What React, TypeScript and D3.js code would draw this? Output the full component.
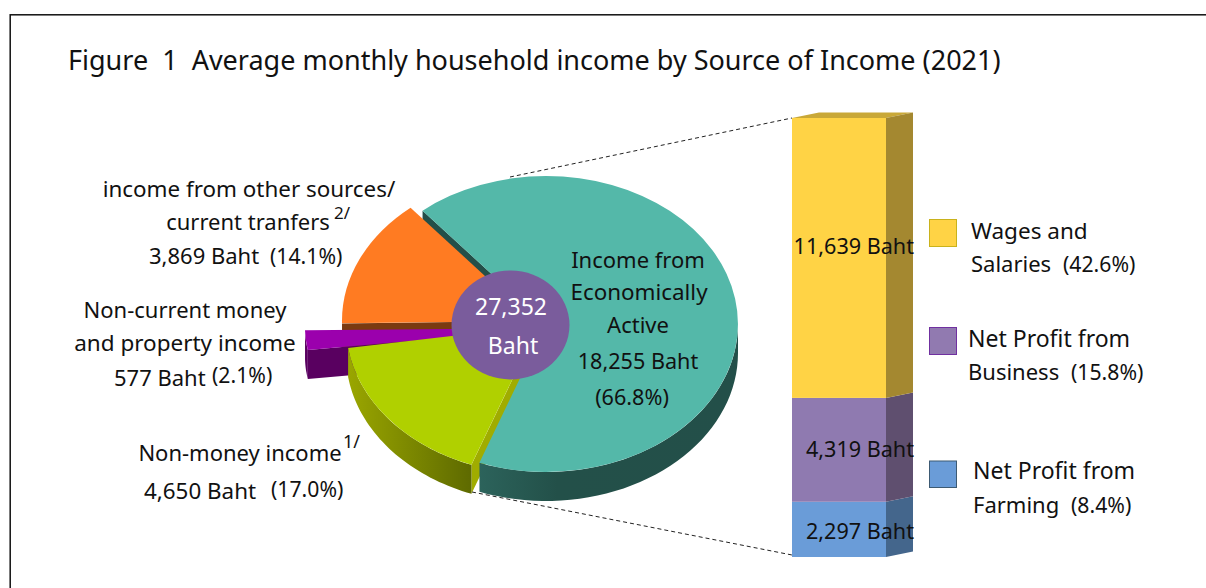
import React from 'react';
import * as d3 from 'd3';

// slices of the pie, clockwise from the teal one
const pieNames = ['Economically Active', 'Non-money', 'Non-current', 'Other sources'];
const pieValues = [18255, 4650, 577, 3869];
const pieColors = ['#54b8a9', '#b0d000', '#9b00ad', '#ff7b22'];
const wallColors = ['#234f49', '#7d8a00', '#590060', '#7a3a10'];

// stacked bar, bottom to top
const barNames = ['Farming', 'Business', 'Wages'];
const barValues = [2297, 4319, 11639];
const barLabels = ['2,297 Baht', '4,319 Baht', '11,639 Baht'];
const barColors = ['#6a9cd8', '#8f7ab0', '#ffd345'];
const barSideColors = ['#44668c', '#5f4f6f', '#a48830'];

const FONT = '"Noto Sans", sans-serif';

const W = 1206;
const H = 588;
const ry = 148;
const depth = 29;
// the slices are pulled apart, so each has its own centre; the thin purple one is stretched out
const sliceCenters: [number, number][] = [[546, 324], [538, 326], [560, 328], [534, 321]];
const sliceRx = [192, 192, 255, 192];

const startAngle = (-40 * Math.PI) / 180;

const pie = d3.pie<number>().sort(null).startAngle(startAngle).endAngle(startAngle + 2 * Math.PI);
const arcs = pie(pieValues);

// unit arc, squashed with a transform to get the tilted look
const unitArc = d3.arc<any>().innerRadius(0).outerRadius(1);

const onEllipse = (a: number, i: number, dy = 0): [number, number] => [
    sliceCenters[i][0] + sliceRx[i] * Math.sin(a),
    sliceCenters[i][1] - ry * Math.cos(a) + dy,
];

// only the part of the rim that looks to the viewer (pi/2 .. 3pi/2)
const rimPath = (a0: number, a1: number, i: number) => {
    const from = Math.max(a0, Math.PI / 2);
    const to = Math.min(a1, (3 * Math.PI) / 2);
    if (to <= from) return '';
    const steps = d3.range(0, 41).map((k) => from + ((to - from) * k) / 40);
    const top = steps.map((a) => onEllipse(a, i));
    const bottom = steps.slice().reverse().map((a) => onEllipse(a, i, depth));
    return d3.line()([...top, ...bottom]) + 'Z';
};

const radialWall = (a: number, i: number) => {
    const c = sliceCenters[i];
    return d3.line()([c, onEllipse(a, i), onEllipse(a, i, depth), [c[0], c[1] + depth]]) + 'Z';
};

const barX = 792;
const barW = 94;
const sideX = 27;
const sideY = 5.5;
const barBottom = 557;
const y = d3.scaleLinear().domain([0, d3.sum(barValues)]).range([barBottom, 118]);
const stack = d3.pairs([0, ...d3.cumsum(barValues)]);
const barTop = y(d3.sum(barValues));

const Label = ({x, y, size = 22, anchor = 'middle', fill = '#111', weight = 400, children}: any) => (
    <text
        x={x}
        y={y}
        fontSize={size}
        textAnchor={anchor}
        fill={fill}
        fontFamily={FONT}
        fontWeight={weight}
        style={{whiteSpace: 'pre'}}
    >
        {children}
    </text>
);

const App = () => {
    const drawOrder = [3, 2, 1, 0];
    return (
        <svg width={W} height={H} style={{position: 'absolute', left: 0, top: 0}}>
            <defs>
                <linearGradient id="tealWall" x1="0" x2="1" y1="0" y2="0">
                    <stop offset="0" stopColor="#2c635b" />
                    <stop offset="0.3" stopColor="#235049" />
                    <stop offset="1" stopColor="#234f49" />
                </linearGradient>
                <linearGradient id="limeWall" x1="0" x2="1" y1="0" y2="0">
                    <stop offset="0" stopColor="#9aa600" />
                    <stop offset="1" stopColor="#5e6a00" />
                </linearGradient>
            </defs>
            <rect x={10.2} y={14.8} width={W + 20} height={H + 20} fill="#fff" stroke="#111" strokeWidth={1.5} />

            <Label x={68} y={70} size={27} anchor="start">Figure  1  Average monthly household income by Source of Income (2021)</Label>

            {/* teal start edge shows through the gap next to the orange slice */}
            <path d={radialWall(arcs[0].startAngle, 0)} fill="#234f49" />

            {drawOrder.map((i) => {
                const a = arcs[i];
                const c = sliceCenters[i];
                const wallFill = i === 0 ? 'url(#tealWall)' : i === 1 ? 'url(#limeWall)' : wallColors[i];
                return (
                    <g key={pieNames[i]}>
                        {i === 1 && <path d={radialWall(a.startAngle, i)} fill="#a0ac00" />}
                        {i === 2 && <path d={radialWall(a.startAngle, i)} fill={wallColors[2]} />}
                        {i === 3 && <path d={radialWall(a.startAngle, i)} fill={wallColors[3]} />}
                        <path d={rimPath(a.startAngle, a.endAngle, i)} fill={wallFill} />
                        <path
                            d={unitArc(a) as string}
                            transform={`translate(${c[0]},${c[1]}) scale(${sliceRx[i]},${ry})`}
                            fill={pieColors[i]}
                        />
                    </g>
                );
            })}

            <ellipse cx={510.5} cy={325} rx={59} ry={54.5} fill="#7a5c9c" />
            <Label x={511} y={315} size={23} fill="#fff">27,352</Label>
            <Label x={513} y={354} size={23} fill="#fff">Baht</Label>

            <Label x={638} y={268}>Income from</Label>
            <Label x={639} y={300} size={22.4}>Economically</Label>
            <Label x={638} y={333}>Active</Label>
            <Label x={638} y={369} size={21.6}>18,255 Baht</Label>
            <Label x={632} y={405} size={21.6}>(66.8%)</Label>

            <Label x={249} y={197} size={22.4}>income from other sources/</Label>
            <Label x={248} y={230}>current tranfers</Label>
            <Label x={342} y={219} size={17}>2/</Label>
            <Label x={149} y={264} size={22} anchor="start">3,869 Baht</Label>
            <Label x={270} y={264} size={21.2} anchor="start">(14.1%)</Label>
            <Label x={185} y={318}>Non-current money</Label>
            <Label x={185} y={351} size={22.5}>and property income</Label>
            <Label x={114} y={386} size={22} anchor="start">577 Baht</Label>
            <Label x={212} y={383} size={21.2} anchor="start">(2.1%)</Label>
            <Label x={240} y={461}>Non-money income</Label>
            <Label x={343} y={448} size={18} anchor="start">1/</Label>
            <Label x={144} y={499} size={22.4} anchor="start">4,650 Baht</Label>
            <Label x={271} y={497} size={21.2} anchor="start">(17.0%)</Label>

            <line x1={510} y1={177} x2={792} y2={118} stroke="#222" strokeDasharray="4 3" />
            <line x1={472} y1={492} x2={792} y2={555} stroke="#222" strokeDasharray="4 3" />

            {/* stacked bar */}
            <path
                d={d3.line()([[barX, barTop], [barX + sideX, barTop - sideY], [barX + barW + sideX, barTop - sideY], [barX + barW, barTop]]) + 'Z'}
                fill="#c9a838"
            />
            {stack.map(([v0, v1], i) => (
                <g key={barNames[i]}>
                    <rect x={barX} y={y(v1)} width={barW} height={y(v0) - y(v1)} fill={barColors[i]} />
                    <path
                        d={d3.line()([[barX + barW, y(v1)], [barX + barW + sideX, y(v1) - sideY], [barX + barW + sideX, y(v0) - sideY], [barX + barW, y(v0)]]) + 'Z'}
                        fill={barSideColors[i]}
                    />
                </g>
            ))}
            <Label x={914} y={254} anchor="end" size={21.6}>{barLabels[2]}</Label>
            <Label x={914} y={457} anchor="end" size={21.6}>{barLabels[1]}</Label>
            <Label x={914} y={539} anchor="end" size={21.6}>{barLabels[0]}</Label>

            {/* legend */}
            <rect x={929.5} y={219.5} width={27} height={27} fill="#ffd345" stroke="#c9b21c" />
            <Label x={971} y={239} anchor="start" size={22.5}>Wages and</Label>
            <Label x={971} y={272} anchor="start">Salaries</Label>
            <Label x={1063} y={272} anchor="start" size={21.2}>(42.6%)</Label>
            <rect x={929.5} y={327.5} width={27} height={27} fill="#917ab0" stroke="#7030a0" />
            <Label x={968} y={347} anchor="start" size={23}>Net Profit from</Label>
            <Label x={968} y={380} anchor="start">Business</Label>
            <Label x={1071} y={380} anchor="start" size={21.2}>(15.8%)</Label>
            <rect x={929.5} y={461} width={27} height={26.5} fill="#6a9cd8" stroke="#3d5a73" />
            <Label x={973} y={479} anchor="start" size={23}>Net Profit from</Label>
            <Label x={973} y={513} anchor="start">Farming</Label>
            <Label x={1071} y={513} anchor="start" size={21.2}>(8.4%)</Label>
        </svg>
    );
};

export default App;
